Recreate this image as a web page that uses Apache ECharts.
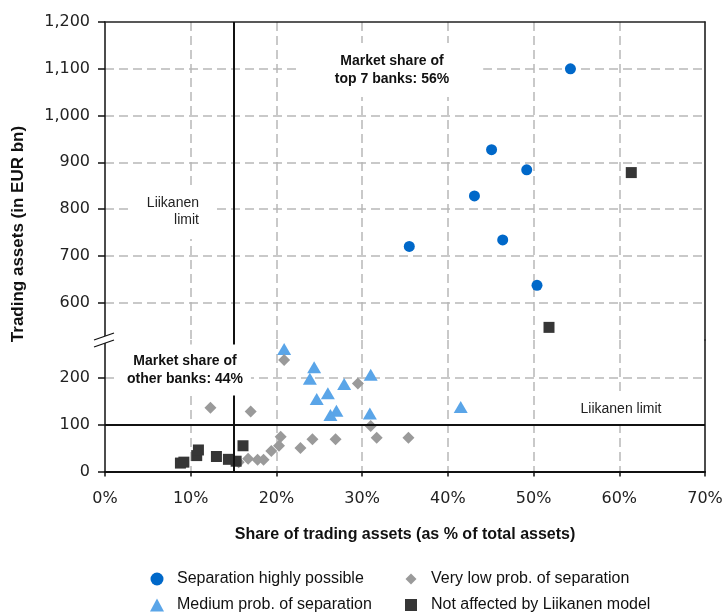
<!DOCTYPE html>
<html><head><meta charset="utf-8">
<script src="https://cdn.jsdelivr.net/npm/echarts@6/dist/echarts.min.js"></script>
<style>html,body{margin:0;padding:0;background:#fff}#c{width:722px;height:613px}</style>
</head><body><div id="c"></div>
<script>
// ---- data ----
const xTicks = [0, 10, 20, 30, 40, 50, 60, 70];
const yTicksLower = [0, 100, 200];
const yTicksUpper = [600, 700, 800, 900, 1000, 1100, 1200];
const LOWER_MAX = 281;      // top of lower (broken) segment
const UPPER_MIN = 520;      // bottom of upper segment
const LIIKANEN_SHARE = 15;  // % of total assets
const LIIKANEN_ASSETS = 100; // EUR bn

const seriesNames = [
  'Separation highly possible',
  'Medium prob. of separation',
  'Very low prob. of separation',
  'Not affected by Liikanen model'
];
const highlyPossible = [[54.3,1100],[45.1,927],[49.2,884],[43.1,828],[46.4,734],[35.5,720],[50.4,637]];
const mediumProb = [[20.9,262],[24.4,223],[23.9,198],[27.9,187],[31.0,207],[26.0,167],[24.7,155],[27.0,130],[26.3,121],[30.9,124],[41.5,138]];
const veryLowProb = [[20.9,238],[29.5,188],[12.3,136],[17.0,128],[31.0,97],[31.7,72],[26.9,69],[24.2,69],[20.5,74],[20.3,55],[22.8,50],[19.4,44],[18.5,25],[17.8,25],[16.7,27],[15.6,20],[35.4,72]];
const notAffected = [[61.4,878],[51.8,547],[8.8,18],[9.2,20],[10.7,34],[10.9,46],[13.0,32],[14.4,26],[15.3,22],[16.1,55]];

const annTop = 'Market share of\ntop 7 banks: 56%';
const annOther = 'Market share of\nother banks: 44%';
const annLimitV = 'Liikanen\nlimit';
const annLimitH = 'Liikanen limit';
const yTitle = 'Trading assets (in EUR bn)';
const xTitle = 'Share of trading assets (as % of total assets)';

// ---- styles ----
const gridColor = '#b8b8b8';
const tickFont = { fontFamily: 'DejaVu Sans', fontSize: 16, color: '#222' };
const dashed = { color: gridColor, width: 1.5, type: [9, 5] };
const blackLine = { color: '#111', width: 2 };
const colors = ['#0068c9', '#5aa5e8', '#9a9a9a', '#363636'];

const upperNA = notAffected.filter(d => d[1] >= UPPER_MIN);
const lowerNA = notAffected.filter(d => d[1] <= LOWER_MAX);

const chart = echarts.init(document.getElementById('c'));
const G_LEFT = 105, G_RIGHT = 17, G_TOP = 22, G_SPLIT = 340, G_BOTTOM = 471.5;

const xCommon = {
  type: 'value', min: xTicks[0], max: xTicks[xTicks.length - 1], interval: 10,
  splitLine: { show: true, showMinLine: false, showMaxLine: false, lineStyle: dashed }
};
// legend layout: [left, top, iconW, iconH, textPadLeft]
const legendLayout = [
  [150.5, 571, 13, 13, 8.5],
  [150, 597, 14, 13, 8],
  [405.5, 571, 11, 11, 9.5],
  [405, 597, 12, 12, 9]
];

const option = {
  animation: false,
  grid: [
    { left: G_LEFT, right: G_RIGHT, top: G_TOP, height: G_SPLIT - G_TOP, outerBoundsMode: 'none', containLabel: false },
    { left: G_LEFT, right: G_RIGHT, top: G_SPLIT, height: G_BOTTOM - G_SPLIT, outerBoundsMode: 'none', containLabel: false }
  ],
  xAxis: [
    Object.assign({}, xCommon, {
      gridIndex: 0, position: 'top',
      axisLine: { show: true, lineStyle: { color: '#222', width: 1.5 } },
      axisTick: { show: false }, axisLabel: { show: false }
    }),
    Object.assign({}, xCommon, {
      gridIndex: 1, position: 'bottom',
      axisLine: { show: true, lineStyle: blackLine },
      axisTick: { show: true, length: 5, lineStyle: { color: '#111', width: 1.5 } },
      axisLabel: Object.assign({ formatter: '{value}%', margin: 19 }, tickFont),
      name: xTitle, nameLocation: 'middle', nameGap: 55,
      nameTextStyle: { fontFamily: 'Liberation Sans', fontWeight: 'bold', fontSize: 16, color: '#111' }
    })
  ],
  yAxis: [
    { // upper left
      type: 'value', gridIndex: 0, min: UPPER_MIN, max: yTicksUpper[yTicksUpper.length - 1],
      minInterval: 100, maxInterval: 100, splitNumber: 7,
      axisLine: { show: true, lineStyle: { color: '#111', width: 1.5 } },
      axisTick: { show: true, length: 7, customValues: yTicksUpper, lineStyle: { color: '#111', width: 1.5 } },
      axisLabel: Object.assign({ margin: 15, customValues: yTicksUpper,
        formatter: v => v.toLocaleString('en-US') }, tickFont),
      splitLine: { show: true, showMinLine: true, showMaxLine: false, lineStyle: dashed }
    },
    { // upper right border
      type: 'value', gridIndex: 0, position: 'right', min: UPPER_MIN, max: 1200,
      axisLine: { show: true, lineStyle: { color: '#111', width: 1.5 } },
      axisTick: { show: false }, axisLabel: { show: false }, splitLine: { show: false }
    },
    { // lower left
      type: 'value', gridIndex: 1, min: 0, max: LOWER_MAX,
      minInterval: 100, maxInterval: 100, splitNumber: 3,
      axisLine: { show: true, lineStyle: { color: '#111', width: 1.5 } },
      axisTick: { show: true, length: 7, customValues: yTicksLower, lineStyle: { color: '#111', width: 1.5 } },
      axisLabel: Object.assign({ margin: 15, customValues: yTicksLower }, tickFont),
      splitLine: { show: true, showMinLine: false, showMaxLine: true, lineStyle: dashed }
    },
    { // lower right border
      type: 'value', gridIndex: 1, position: 'right', min: 0, max: LOWER_MAX,
      axisLine: { show: true, lineStyle: { color: '#111', width: 1.5 } },
      axisTick: { show: false }, axisLabel: { show: false }, splitLine: { show: false }
    }
  ],
  legend: legendLayout.map((L, i) => ({
    data: [seriesNames[i]], orient: 'horizontal', left: L[0], top: L[1],
    itemWidth: L[2], itemHeight: L[3], padding: 0,
    textStyle: { fontFamily: 'Liberation Sans', fontSize: 16, color: '#111', padding: [0, 0, 0, L[4]] }
  })),
  series: [
    {
      name: seriesNames[0], type: 'scatter', xAxisIndex: 0, yAxisIndex: 0,
      data: highlyPossible, symbol: 'circle', symbolSize: 11,
      itemStyle: { color: colors[0], opacity: 1 }
    },
    {
      name: seriesNames[1], type: 'scatter', xAxisIndex: 1, yAxisIndex: 2,
      data: mediumProb, symbol: 'triangle', symbolSize: [14, 12],
      itemStyle: { color: colors[1], opacity: 1 }
    },
    {
      name: seriesNames[2], type: 'scatter', xAxisIndex: 1, yAxisIndex: 2,
      data: veryLowProb, symbol: 'diamond', symbolSize: 12,
      itemStyle: { color: colors[2], opacity: 1 }
    },
    {
      name: seriesNames[3], type: 'scatter', xAxisIndex: 0, yAxisIndex: 0,
      data: upperNA, symbol: 'rect', symbolSize: 11,
      itemStyle: { color: colors[3], opacity: 1 },
      markLine: { silent: true, symbol: 'none', label: { show: false }, lineStyle: Object.assign({ type: 'solid' }, blackLine),
        data: [{ xAxis: LIIKANEN_SHARE }] }
    },
    {
      name: seriesNames[3], type: 'scatter', xAxisIndex: 1, yAxisIndex: 2,
      data: lowerNA, symbol: 'rect', symbolSize: 11,
      itemStyle: { color: colors[3], opacity: 1 },
      markLine: { silent: true, symbol: 'none', label: { show: false }, lineStyle: Object.assign({ type: 'solid' }, blackLine),
        data: [{ xAxis: LIIKANEN_SHARE }, { yAxis: LIIKANEN_ASSETS }] }
    }
  ],
  graphic: [
    { type: 'text', z: 100, x: 392, y: 70,
      style: { text: annTop, align: 'center', verticalAlign: 'middle', fill: '#111',
        font: 'bold 14px "Liberation Sans"', lineHeight: 18, backgroundColor: '#fff', padding: [9, 34] } },
    { type: 'text', z: 100, x: 214, y: 212,
      style: { text: annLimitV, align: 'right', verticalAlign: 'middle', fill: '#222',
        font: '14px "Liberation Sans"', lineHeight: 17,
        backgroundColor: '#fff', padding: [10, 15, 10, 18] } },
    { type: 'text', z: 100, x: 185, y: 370,
      style: { text: annOther, align: 'center', verticalAlign: 'middle', fill: '#111',
        font: 'bold 14px "Liberation Sans"', lineHeight: 18, backgroundColor: '#fff', padding: [7, 8, 8, 8] } },
    { type: 'text', z: 100, x: 621, y: 409,
      style: { text: annLimitH, align: 'center', verticalAlign: 'middle', fill: '#222',
        font: '14px "Liberation Sans"', backgroundColor: '#fff', padding: [11, 12, 5, 12] } },
    { type: 'text', z: 100, x: 18, y: 234, rotation: Math.PI / 2,
      style: { text: yTitle, align: 'center', verticalAlign: 'middle', fill: '#111',
        font: 'bold 17px "Liberation Sans"' } },
    // axis break mark
    { type: 'polygon', z: 101, shape: { points: [[94, 340], [114, 333], [114, 340], [94, 347]] },
      style: { fill: '#fff' } },
    { type: 'line', z: 102, shape: { x1: 94, y1: 340, x2: 114, y2: 333 }, style: { stroke: '#111', lineWidth: 1.3 } },
    { type: 'line', z: 102, shape: { x1: 94, y1: 347, x2: 114, y2: 340 }, style: { stroke: '#111', lineWidth: 1.3 } }
  ]
};
chart.setOption(option);
</script>
</body></html>
